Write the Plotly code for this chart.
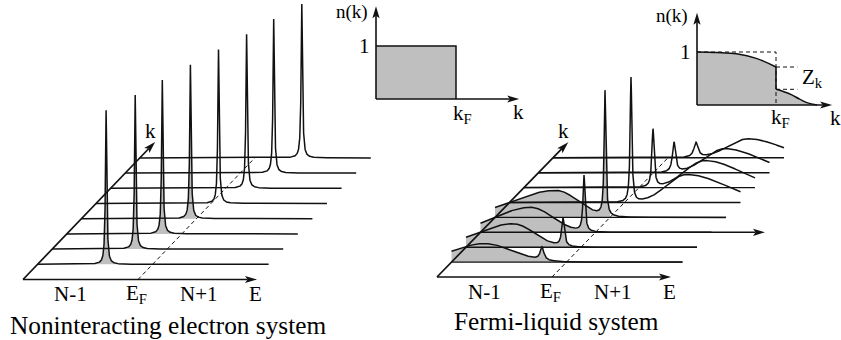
import numpy as np
import plotly.graph_objects as go

# ---------------- data ----------------
# eight momenta per panel, k increasing from the front row to the back row;
# energies are measured from the Fermi level (E_F = 0)

# noninteracting system: sharp band peaks
free_energy = [-46.5, -32.0, -19.5, -6.0, 7.5, 21.0, 33.5, 47.0]
free_weight = [154, 154, 154, 154, 154, 154, 154, 154]
free_width = [0.8, 0.8, 0.8, 0.8, 0.8, 0.8, 0.8, 0.8]

# Fermi liquid: coherent quasiparticle peaks
qp_energy = [-24.5, -18.0, -11.5, -5.0, 6.5, 14.0, 20.5, 28.0]
qp_weight = [13, 28, 56, 125, 125, 58, 30, 15]
qp_width = [2.2, 1.6, 1.2, 1.0, 1.0, 1.3, 1.8, 2.5]

# Fermi liquid: broad incoherent background
inc_energy = [-82.0, -68.0, -65.0, -54.0, 62.0, 66.0, 71.5, 80.0]
inc_weight = [18.5, 23.5, 25.0, 27.0, 28.0, 27.0, 24.0, 19.0]
inc_width_lo = [32, 36, 35, 43, 20, 20, 20, 20]
inc_width_hi = [28, 21, 22, 22, 39, 35, 34, 32]

# momentum distributions n(k), k in units of k_F
free_nk_k = [0.0, 0.0, 1.0, 1.0]
free_nk_n = [0.0, 1.0, 1.0, 0.0]
fl_nk_k_below = [0.0, 0.25, 0.5, 0.75, 1.0]
fl_nk_n_below = [1.0, 0.99, 0.965, 0.88, 0.717]
fl_nk_k_above = [1.0, 1.1, 1.2, 1.3, 1.4, 1.52]
fl_nk_n_above = [0.296, 0.25, 0.19, 0.11, 0.04, 0.0]

axis_labels = ["N-1", "E<sub>F</sub>", "N+1", "E"]
axis_label_energy = [-68.0, -2.0, 61.0, 117.0]

# ---------------- drawing set-up ----------------
INK = "#111111"
GREY = "#bfbfbf"
SERIF = "Liberation Serif, DejaVu Serif, Times New Roman, serif"

E_LO, E_HI = -115.0, 116.0
K_AXIS_END = 9.05

PANELS = {
    "free": dict(ox=23.0, oy=279.5, dx=14.6, dy=15.2),
    "fl": dict(ox=437.0, oy=277.0, dx=14.5, dy=14.9),
}
INSETS = {
    "free": dict(ox=376.0, oy=99.0, ks=80.0, ns=53.0, k_tip=1.79, n_tip=1.75),
    "fl": dict(ox=697.0, oy=105.0, ks=79.0, ns=53.0, k_tip=1.71, n_tip=1.74),
}

fig = go.Figure()


def line(xs, ys, width=1.5, dash=None, color=INK, shape="linear"):
    fig.add_trace(go.Scatter(
        x=list(xs), y=list(ys), mode="lines",
        line=dict(color=color, width=width, dash=dash, shape=shape),
        hoverinfo="skip", showlegend=False))


def patch(xs, ys, color=GREY):
    fig.add_trace(go.Scatter(
        x=list(xs), y=list(ys), mode="lines", fill="toself",
        fillcolor=color, line=dict(width=0, color=color),
        hoverinfo="skip", showlegend=False))


def arrow(x0, y0, x1, y1, width=1.5, head_len=12.0, half=3.6, notch=2.6):
    vx, vy = x1 - x0, y1 - y0
    L = np.hypot(vx, vy)
    ux, uy = vx / L, vy / L
    px, py = -uy, ux
    bx, by = x1 - ux * head_len, y1 - uy * head_len
    nx, ny = x1 - ux * (head_len - notch), y1 - uy * (head_len - notch)
    line([x0, nx], [y0, ny], width)
    patch([x1, bx + px * half, nx, bx - px * half, x1],
          [y1, by + py * half, ny, by - py * half, y1], color=INK)


def text(x, y, s, size=20):
    fig.add_annotation(x=x, y=y, text=s, showarrow=False, xref="x", yref="y",
                       xanchor="center", yanchor="middle",
                       font=dict(family=SERIF, size=size, color="black"))


def to_screen(p, r, E, A):
    E = np.asarray(E, dtype=float)
    A = np.asarray(A, dtype=float)
    return p["ox"] + p["dx"] * r + (E - E_LO), p["oy"] - p["dy"] * r - A


def lorentz(E, e0, h, g):
    return h / (1.0 + ((E - e0) / g) ** 2)


def hump(E, e0, h, s_lo, s_hi):
    s = np.where(E < e0, s_lo, s_hi)
    return h * np.exp(-0.5 * ((E - e0) / s) ** 2)


def energy_grid(centers, widths):
    pts = [np.linspace(E_LO, E_HI, 2311)]
    for c, g in zip(centers, widths):
        pts.append(c + g * np.tan(np.linspace(-1.56, 1.56, 241)))
    E = np.unique(np.concatenate(pts))
    return E[(E >= E_LO) & (E <= E_HI)]


def spectrum_rows(p, energies, widths, spectrum, baselines):
    fills, curves = [], []
    for i in range(8):
        r = i + 1
        E = energy_grid([energies[i]], [widths[i]])
        A = spectrum(i, E)
        xs, ys = to_screen(p, r, E, A)
        curves.append((xs, ys))
        if energies[i] < 0:
            occ = E <= 0
            Eo, Ao = E[occ], A[occ]
            fx, fy = to_screen(p, r, Eo, Ao)
            bx, by = to_screen(p, r, [0.0, E_LO], [0.0, 0.0])
            fills.append((np.concatenate([fx, bx]), np.concatenate([fy, by])))
    for fx, fy in fills:
        patch(fx, fy)
    for i, end in enumerate(baselines):
        if end is None:
            continue
        x0, y0 = to_screen(p, i + 1, [E_LO, end], [0, 0])
        line(x0, y0, 1.4)
    for xs, ys in curves:
        line(xs, ys, 1.5)


def panel_frame(p):
    ex, ey = to_screen(p, 0, [E_LO, E_LO + 234.0], [0, 0])
    arrow(ex[0], ey[0], ex[1], ey[1], width=1.7)
    kx0, ky0 = to_screen(p, 0, E_LO, 0)
    kx1, ky1 = to_screen(p, K_AXIS_END, E_LO, 0)
    arrow(float(kx0), float(ky0), float(kx1), float(ky1), width=1.7)
    fx0, fy0 = to_screen(p, 0, 0.0, 0)
    fx1, fy1 = to_screen(p, 8, 0.0, 0)
    line([fx0, fx1], [fy0, fy1], 1.0, dash="4px,3px")
    for s, e in zip(axis_labels, axis_label_energy):
        x, _ = to_screen(p, 0, e, 0)
        text(float(x), p["oy"] + 14.5, s, 21)
    text(float(kx1) - 5, float(ky1) - 11, "k", 21)


# ---- noninteracting panel ----
pf = PANELS["free"]
spectrum_rows(
    pf, free_energy, free_width,
    lambda i, E: lorentz(E, free_energy[i], free_weight[i], free_width[i]),
    [None] * 8)
panel_frame(pf)

# ---- Fermi-liquid panel ----
pl = PANELS["fl"]
fl_row_ends = [E_HI, E_HI, None, E_HI, E_HI, E_HI, E_HI, E_HI]
spectrum_rows(
    pl, qp_energy, qp_width,
    lambda i, E: lorentz(E, qp_energy[i], qp_weight[i], qp_width[i])
    + hump(E, inc_energy[i], inc_weight[i], inc_width_lo[i], inc_width_hi[i]),
    fl_row_ends)
# third row carries a long arrow towards higher energy
ax0, ay0 = to_screen(pl, 3, [E_LO, 169.5], [0, 0])
arrow(ax0[0], ay0[0], ax0[1], ay0[1], width=1.4)
panel_frame(pl)

text(168, 325, "Noninteracting electron system", 25.3)
text(556, 321, "Fermi-liquid system", 25.3)


# ---- insets: momentum distribution ----
def inset_xy(q, k, n):
    k = np.asarray(k, dtype=float)
    n = np.asarray(n, dtype=float)
    return q["ox"] + q["ks"] * k, q["oy"] - q["ns"] * n


def inset_axes(q):
    x0, y0 = inset_xy(q, 0, 0)
    xk, _ = inset_xy(q, q["k_tip"], 0)
    _, yn = inset_xy(q, 0, q["n_tip"])
    arrow(float(x0), float(y0), float(xk), float(y0), width=1.6)
    arrow(float(x0), float(y0), float(x0), float(yn), width=1.6)


qf = INSETS["free"]
bx, by = inset_xy(qf, free_nk_k, free_nk_n)
patch(bx, by)
line(bx[1:], by[1:], 1.5)
inset_axes(qf)
for (k, n, s, size) in [(-0.3, 1.64, "n(k)", 19), (-0.14, 1.0, "1", 21),
                        (1.08, -0.28, "k<sub>F</sub>", 21), (1.78, -0.25, "k", 21)]:
    x, y = inset_xy(qf, k, n)
    text(float(x), float(y), s, size)

ql = INSETS["fl"]
# filled occupation below and above k_F
for ks_, ns_ in [(fl_nk_k_below, fl_nk_n_below), (fl_nk_k_above, fl_nk_n_above)]:
    zx, zy = inset_xy(ql, [ks_[0], ks_[-1]], [0, 0])
    line(zx, zy, 0.1, color="rgba(0,0,0,0)")
    cx, cy = inset_xy(ql, ks_, ns_)
    fig.add_trace(go.Scatter(x=list(cx), y=list(cy), mode="lines", fill="tonexty",
                             fillcolor=GREY, line=dict(width=0, shape="spline", color=GREY),
                             hoverinfo="skip", showlegend=False))
# the step of the free system, dashed
dx_, dy_ = inset_xy(ql, [0, 1, 1], [1, 1, 0])
line(dx_, dy_, 1.0, dash="4px,3px")
# Z_k markers
for nval in (fl_nk_n_below[-1], fl_nk_n_above[0]):
    zx, zy = inset_xy(ql, [1.0, 1.27], [nval, nval])
    line(zx, zy, 1.0, dash="4px,3px")
cx, cy = inset_xy(ql, fl_nk_k_below, fl_nk_n_below)
line(cx, cy, 1.5, shape="spline")
cx, cy = inset_xy(ql, fl_nk_k_above, fl_nk_n_above)
line(cx, cy, 1.5, shape="spline")
jx, jy = inset_xy(ql, [1.0, 1.0], [fl_nk_n_below[-1], fl_nk_n_above[0]])
line(jx, jy, 1.6)
inset_axes(ql)
for (k, n, s, size) in [(-0.32, 1.68, "n(k)", 19), (-0.14, 1.0, "1", 21),
                        (1.06, -0.25, "k<sub>F</sub>", 21), (1.75, -0.25, "k", 21),
                        (1.46, 0.51, "Z<sub>k</sub>", 21)]:
    x, y = inset_xy(ql, k, n)
    text(float(x), float(y), s, size)

fig.update_layout(
    width=841, height=340,
    margin=dict(l=0, r=0, t=0, b=0, pad=0),
    paper_bgcolor="white", plot_bgcolor="white",
    showlegend=False,
    font=dict(family=SERIF),
    xaxis=dict(range=[0, 841], visible=False, fixedrange=True),
    yaxis=dict(range=[340, 0], visible=False, fixedrange=True),
)
fig.write_html("out.html")
